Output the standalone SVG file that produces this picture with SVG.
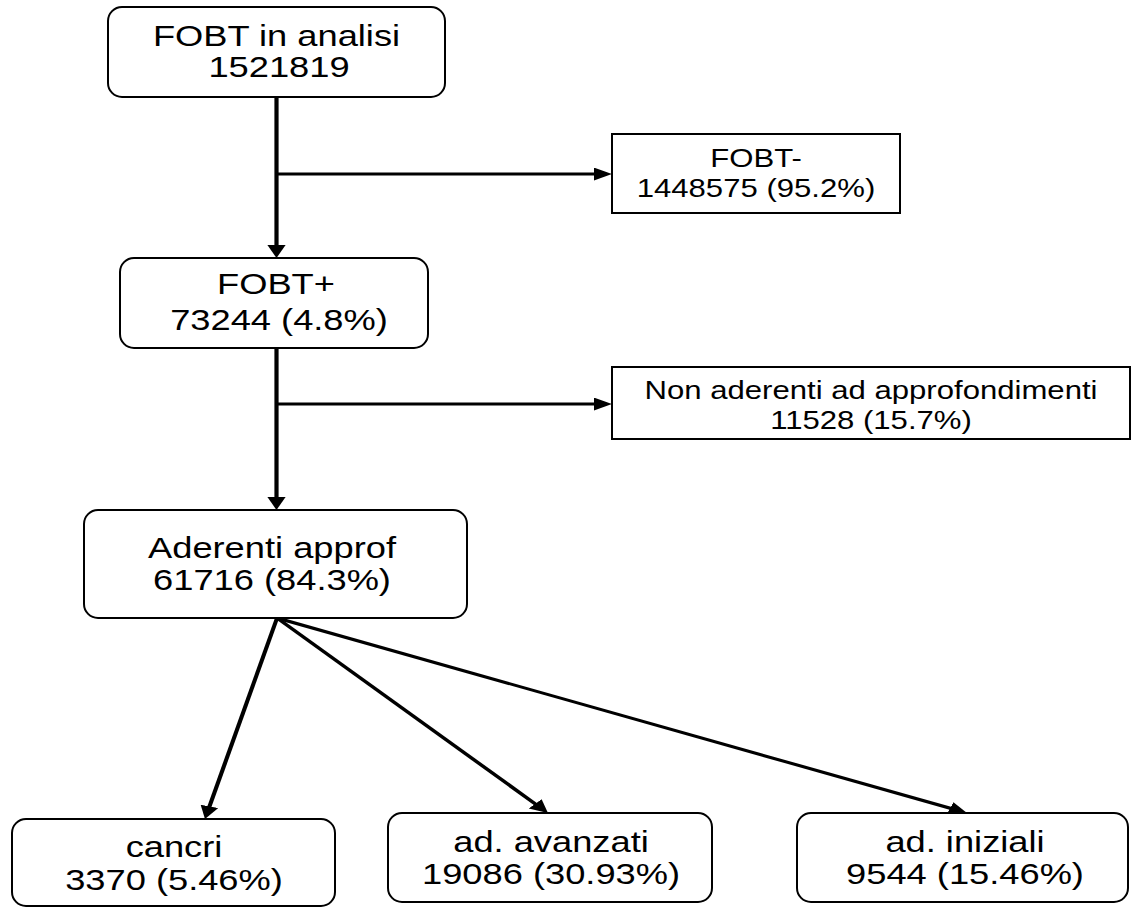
<svg xmlns="http://www.w3.org/2000/svg" width="1132" height="908" viewBox="0 0 1132 908">
  <style>
    .box { fill: #ffffff; stroke: #000000; stroke-width: 2; }
    .big { font-family: "Liberation Sans", Arial, sans-serif; font-size: 29.5px; fill: #000000; text-anchor: middle; }
    .small { font-family: "Liberation Sans", Arial, sans-serif; font-size: 25.5px; fill: #000000; text-anchor: middle; }
    .conn { fill: none; stroke: #000000; stroke-width: 3; }
  </style>
  <defs>
    <marker id="arrow" markerUnits="userSpaceOnUse" markerWidth="14" markerHeight="14" refX="9" refY="6.5" orient="auto">
      <path d="M0,0 L13,6.5 L0,13 Z" fill="#000000"/>
    </marker>
  </defs>
  <rect width="1132" height="908" fill="#ffffff"/>
  <g id="connectors" transform="scale(1.4 1)">
    <line class="conn" x1="197.5" y1="97" x2="197.5" y2="254" marker-end="url(#arrow)"/>
    <line class="conn" x1="197.5" y1="174" x2="433.1" y2="174" marker-end="url(#arrow)"/>
    <line class="conn" x1="197.5" y1="348" x2="197.5" y2="506" marker-end="url(#arrow)"/>
    <line class="conn" x1="197.5" y1="404" x2="433.1" y2="404" marker-end="url(#arrow)"/>
    <line class="conn" x1="197.9" y1="618" x2="147.4" y2="815.1" marker-end="url(#arrow)"/>
    <line class="conn" x1="197.9" y1="618" x2="388.6" y2="810.2" marker-end="url(#arrow)"/>
    <line class="conn" x1="197.9" y1="618" x2="687.0" y2="811.5" marker-end="url(#arrow)"/>
  </g>
  <g id="node-fobt-analisi">
    <rect class="box" x="108" y="7" width="337" height="90" rx="14" ry="14"/>
    <text class="big" transform="translate(276.5 46) scale(1.23 1)">FOBT in analisi</text>
    <text class="big" transform="translate(279 77) scale(1.23 1)">1521819</text>
  </g>
  <g id="node-fobt-neg">
    <rect class="box" x="612" y="134" width="288" height="79"/>
    <text class="small" transform="translate(756 167) scale(1.22 1)">FOBT-</text>
    <text class="small" transform="translate(756 197) scale(1.22 1)">1448575 (95.2%)</text>
  </g>
  <g id="node-fobt-pos">
    <rect class="box" x="120" y="258" width="308" height="90" rx="14" ry="14"/>
    <text class="big" transform="translate(276 294) scale(1.23 1)">FOBT+</text>
    <text class="big" transform="translate(279 330) scale(1.23 1)">73244 (4.8%)</text>
  </g>
  <g id="node-non-aderenti">
    <rect class="box" x="612" y="367" width="518" height="72"/>
    <text class="small" transform="translate(871 399) scale(1.22 1)">Non aderenti ad approfondimenti</text>
    <text class="small" transform="translate(871 429) scale(1.22 1)">11528 (15.7%)</text>
  </g>
  <g id="node-aderenti">
    <rect class="box" x="84" y="510" width="383" height="108" rx="14" ry="14"/>
    <text class="big" transform="translate(272 558) scale(1.23 1)">Aderenti approf</text>
    <text class="big" transform="translate(272 590) scale(1.23 1)">61716 (84.3%)</text>
  </g>
  <g id="node-cancri">
    <rect class="box" x="12" y="819" width="323" height="87" rx="14" ry="14"/>
    <text class="big" transform="translate(174 857) scale(1.23 1)">cancri</text>
    <text class="big" transform="translate(174 890) scale(1.23 1)">3370 (5.46%)</text>
  </g>
  <g id="node-avanzati">
    <rect class="box" x="388" y="813" width="324" height="89" rx="14" ry="14"/>
    <text class="big" transform="translate(551 852) scale(1.23 1)">ad. avanzati</text>
    <text class="big" transform="translate(551 884) scale(1.23 1)">19086 (30.93%)</text>
  </g>
  <g id="node-iniziali">
    <rect class="box" x="797" y="813" width="331" height="89" rx="14" ry="14"/>
    <text class="big" transform="translate(965 852) scale(1.23 1)">ad. iniziali</text>
    <text class="big" transform="translate(965 884) scale(1.23 1)">9544 (15.46%)</text>
  </g>
</svg>
